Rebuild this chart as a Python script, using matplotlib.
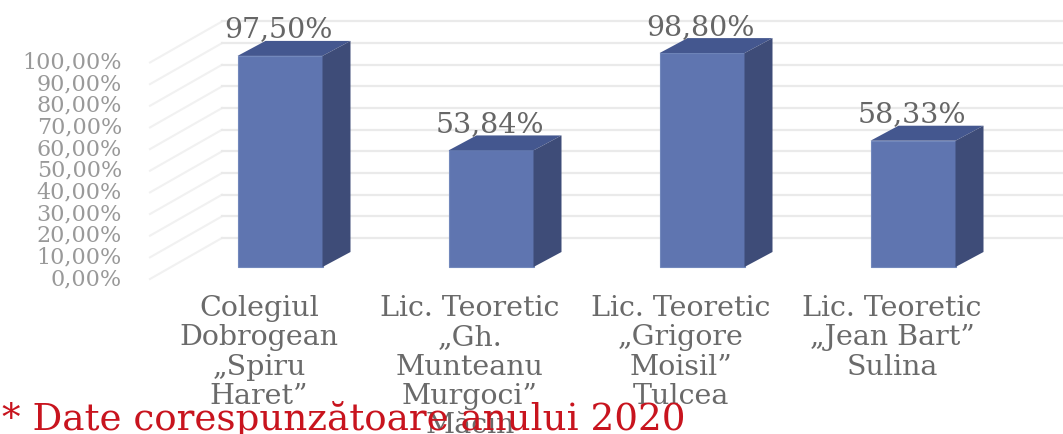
import numpy as np
import matplotlib
matplotlib.use('Agg')
from matplotlib import pyplot as plt
from matplotlib.patches import Polygon

labels = ["Colegiul\nDobrogean\n„Spiru\nHaret”",
          "Lic. Teoretic\n„Gh.\nMunteanu\nMurgoci”\nMăcin",
          "Lic. Teoretic\n„Grigore\nMoisil”\nTulcea",
          "Lic. Teoretic\n„Jean Bart”\nSulina"]
values = [97.50, 53.84, 98.80, 58.33]
value_labels = ["97,50%", "53,84%", "98,80%", "58,33%"]
ticks = list(range(0, 101, 10))
tick_labels = [f"{t},00%" for t in ticks]
note = "* Date corespunzătoare anului 2020"

# sizes of one category and one percent, in pixels
px_x = 211
px_y = 2.165
W, H = 1063, 434
x0, y0 = 280, 267


def dx(px):
    return px / px_x


def dy(px):
    return px / px_y


fig = plt.figure(figsize=(W / 100, H / 100), dpi=100)
ax = fig.add_axes([0, 0, 1, 1])
ax.set_xlim(-x0 / px_x, (W - x0) / px_x)
ax.set_ylim((y0 - H) / px_y, y0 / px_y)
ax.axis("off")

grid_c = "#EAEAEA"
for t, tl in zip(ticks, tick_labels):
    # floor side piece and back wall
    ax.plot([dx(-130), dx(-58)], [t - dy(12), t + dy(29)], color="#F1F1F1", lw=1.5, zorder=1)
    ax.plot([dx(-58), dx(800)], [t + dy(29), t + dy(29)], color=grid_c, lw=1.6, zorder=1)
    ax.text(dx(-158), t - dy(12), tl, ha="right", va="center",
            family="DejaVu Serif", fontsize=16, color="#999999", zorder=5)

x = np.arange(len(values))
width = dx(85)
depth_x = dx(28)
depth_y = dy(15)
ax.bar(x, values, width=width, color="#5F75B0", edgecolor="#7288BC", lw=0.8, zorder=3)
for xi, v, lab in zip(x, values, value_labels):
    l, r = xi - width / 2, xi + width / 2
    ax.add_patch(Polygon([(l, v), (r, v), (r + depth_x, v + depth_y), (l + depth_x, v + depth_y)],
                         facecolor="#44578F", edgecolor="none", zorder=3))
    ax.add_patch(Polygon([(r, 0), (r + depth_x, depth_y), (r + depth_x, v + depth_y), (r, v)],
                         facecolor="#3E4C78", edgecolor="none", zorder=3))
    ax.text(xi - dx(1), v + dy(26), lab, ha="center", va="center", family="DejaVu Serif",
            fontsize=20.5, color="#666666", zorder=6)

for xi, lab in zip(x, labels):
    ax.text(xi - dx(21), dy(-28), lab, ha="center", va="top",
            family="DejaVu Serif", fontsize=20.5, color="#6A6A6A", linespacing=1.11, zorder=4)

ax.text(dx(-278), dy(-152), note, ha="left", va="center", family="DejaVu Serif",
        fontsize=26.8, color="#C8141E", zorder=7)

plt.savefig("out.png", dpi=100)
plt.close()
